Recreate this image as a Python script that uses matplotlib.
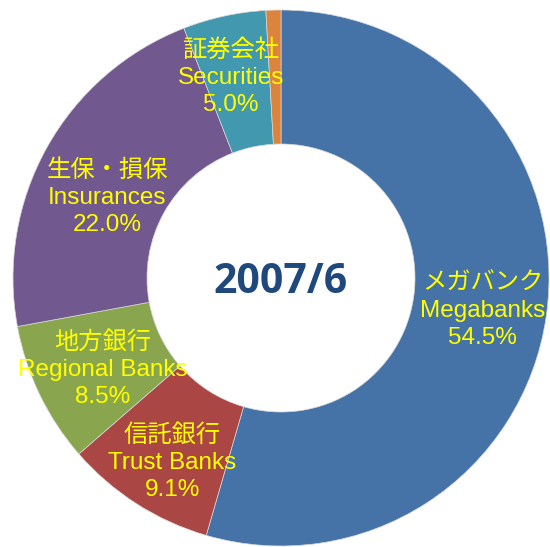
import numpy as np
import matplotlib
matplotlib.use("Agg")
import matplotlib.pyplot as plt

categories_jp = ["メガバンク", "信託銀行", "地方銀行", "生保・損保", "証券会社", ""]
categories_en = ["Megabanks", "Trust Banks", "Regional Banks", "Insurances", "Securities", ""]
values = [54.5, 9.1, 8.5, 22.0, 5.0, 0.9]
pct_labels = ["54.5%", "9.1%", "8.5%", "22.0%", "5.0%", ""]
colors = ["#4572A7", "#AA4643", "#89A54E", "#71588F", "#4198AF", "#DB843D"]
center_title = "2007/6"

# label nudges in pixels (dx right, dy down), styling only
label_nudge_px = [(0, 4), (1, 13), (5, 3), (4, 19), (-7, -1), (0, 0)]

W, H = 550, 547
fig = plt.figure(figsize=(W / 100, H / 100), dpi=100)
cx, cy, R = 281, 278, 268
ax = fig.add_axes([(cx - R) / W, (H - cy - R) / H, 2 * R / W, 2 * R / H])

wedges, _ = ax.pie(values, colors=colors, startangle=90, counterclock=False,
                   radius=1.0,
                   wedgeprops=dict(width=0.5, edgecolor="#d8d8d8", linewidth=0.5))
ax.set_xlim(-1, 1)
ax.set_ylim(-1, 1)
ax.set_aspect("equal")
ax.axis("off")

fam = ["Liberation Sans", "Noto Sans CJK JP", "DejaVu Sans"]
for w, jp, en, pct, (ndx, ndy) in zip(wedges, categories_jp, categories_en,
                                      pct_labels, label_nudge_px):
    if not en:
        continue
    mid = np.deg2rad((w.theta1 + w.theta2) / 2)
    r = 0.76
    x = r * np.cos(mid) + ndx / R
    y = r * np.sin(mid) - ndy / R
    ax.text(x, y, f"{jp}\n{en}\n{pct}", ha="center", va="center",
            color="#FFFF00", fontsize=17.5, family=fam, linespacing=1.3)

ax.text(0, -0.015, center_title, ha="center", va="center", color="#1F497D",
        fontsize=29.5, fontweight="bold", family=["Open Sans", "DejaVu Sans"])

fig.savefig("out.png", dpi=100)
